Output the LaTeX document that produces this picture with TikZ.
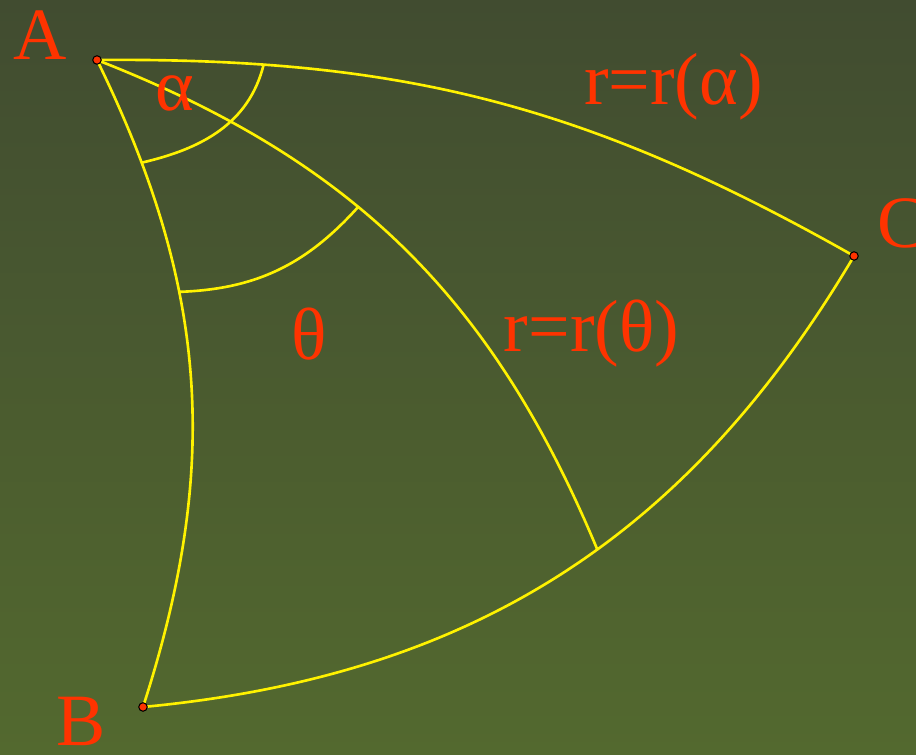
\documentclass[tikz,border=0pt]{standalone}
\usepackage{fontspec}
\setmainfont{Liberation Serif}
\usetikzlibrary{positioning, calc}
\definecolor{bgtop}{RGB}{65,76,48}
\definecolor{bgbot}{RGB}{83,105,47}
\definecolor{lblred}{RGB}{255,51,0}

\begin{document}
\begin{tikzpicture}[
    arcline/.style={draw=yellow, line width=0.75pt},
    lbl/.style={text=lblred, font=\fontsize{21}{25}\selectfont, inner sep=0pt, anchor=base},
    vdot/.style={circle, fill=lblred, draw=black, line width=0.3pt, inner sep=0pt, minimum size=0.85mm}
  ]
            % background
            \shade[top color=bgtop, bottom color=bgbot] (0,0) rectangle (9.16,7.54);
            \useasboundingbox (0,0) rectangle (9.16,7.54);

            \coordinate (A) at (0.97,6.94);
            \coordinate (B) at (1.43,0.47);
            \coordinate (C) at (8.54,4.98);

            % sides
            \draw[arcline] (A) to[bend left=15] coordinate[pos=0.195] (E1) (C);
            \draw[arcline] (A) to[bend left=22] coordinate[pos=0.155] (E2) coordinate[pos=0.36] (F2) (B);
            \draw[arcline] (B) to[bend right=27] coordinate[pos=0.557] (D) (C);
            \draw[arcline] (A) to[bend left=23] coordinate[pos=0.41] (F1) (D);

            % angle arcs
            \draw[arcline] (E1) to[out=256, in=13] (E2);
            \draw[arcline] (F1) to[out=228, in=2] (F2);

            \node[vdot] (dotA) at (A) {};
            \node[vdot] (dotB) at (B) {};
            \node[vdot] (dotC) at (C) {};

            \node[lbl] (labA) at (0.40,6.94) {A};
            \node[lbl] (labB) at (0.81,0.09) {B};
            \node[lbl] (labC) at (9.02,5.06) {C};
            \node[lbl] (labalpha) at (1.75,6.43) {α};
            \node[lbl] (labtheta) at (3.09,3.94) {θ};
            \node[lbl] (labralpha) at (6.735,6.49) {r=r(α)};
            \node[lbl] (labrtheta) at (5.915,4.02) {r=r(θ)};
        \end{tikzpicture}
\end{document}
